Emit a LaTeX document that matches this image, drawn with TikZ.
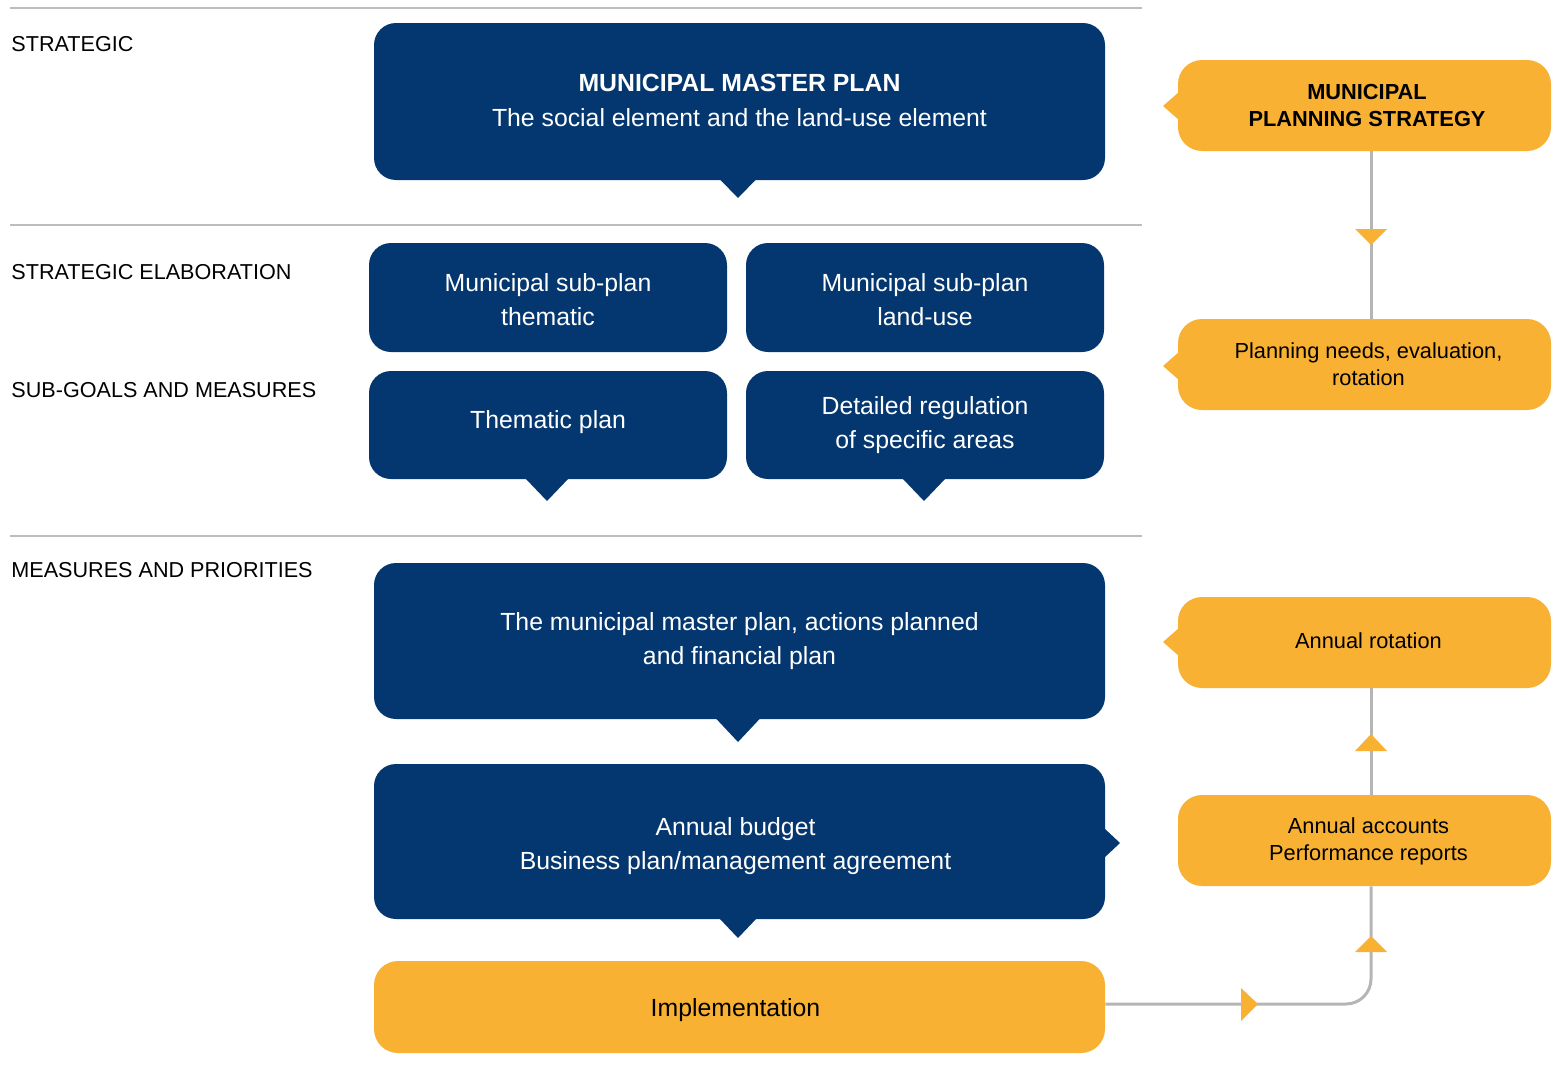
\documentclass[tikz,border=0pt]{standalone}
\usepackage{fontspec}
\setmainfont{Liberation Sans}
\usetikzlibrary{calc}
\definecolor{navy}{HTML}{04376F}
\definecolor{gold}{HTML}{F8B133}
\definecolor{sepgray}{HTML}{BDBDBD}
\definecolor{lgray}{HTML}{B5B5B5}
\begin{document}
\begin{tikzpicture}[x=0.5pt,y=-0.5pt,
  bluebox/.style={fill=navy, rounded corners=11pt, inner sep=0pt},
  goldbox/.style={fill=gold, rounded corners=12pt, inner sep=0pt},
  btxt/.style={text=white, inner sep=0pt, align=center, font=\fontsize{12.4}{17}\selectfont},
  gtxt/.style={text=black, inner sep=0pt, align=center, font=\fontsize{10.9}{13.5}\selectfont},
  widebox/.style={minimum width=365.5pt},
  halfbox/.style={minimum width=179pt},
  sidebox/.style={minimum width=186.5pt, minimum height=45.5pt},
  rowlabel/.style={anchor=west, inner sep=0pt, text=black, font=\fontsize{10.8}{12}\selectfont},
  sepline/.style={draw=sepgray, line width=1pt},
  flowline/.style={draw=lgray, line width=1.5pt},
  bluetip/.style={fill=navy},
  goldtip/.style={fill=gold}
]
\useasboundingbox (0,0) rectangle (1558,1076);

% separators
\draw[sepline] (10,8) -- (1142,8);
\draw[sepline] (10,225) -- (1142,225);
\draw[sepline] (10,536) -- (1142,536);

% row labels
\node[rowlabel] (l1) at (11,44) {STRATEGIC};
\node[rowlabel] (l2) at (11,272) {STRATEGIC ELABORATION};
\node[rowlabel] (l3) at (11,390) {SUB-GOALS AND MEASURES};
\node[rowlabel] (l4) at (11,570) {MEASURES AND PRIORITIES};

% blue boxes
\node[bluebox, widebox, minimum height=78.5pt] (master) at (739.5,101.5) {};
\node[bluebox, halfbox, minimum height=54.5pt] (subthem) at (548,297.5) {};
\node[bluebox, halfbox, minimum height=54.5pt] (subland) at (925,297.5) {};
\node[bluebox, halfbox, minimum height=54pt] (themplan) at (548,425) {};
\node[bluebox, halfbox, minimum height=54pt] (detailed) at (925,425) {};
\node[bluebox, widebox, minimum height=78pt] (actions) at (739.5,641) {};
\node[bluebox, widebox, minimum height=77.5pt] (budget) at (739.5,841.5) {};
\node[goldbox, widebox, minimum height=46pt] (impl) at (739.5,1007) {};

% blue box texts
\node[btxt] (mastertxt) at ($(master.center)+(0,-1.5)$)
  {{\bfseries MUNICIPAL MASTER PLAN}\\[0.5pt]The social element and the land-use element};
\node[btxt] (subthemtxt) at ($(subthem.center)+(0,2.5)$) {Municipal sub-plan\\thematic};
\node[btxt] (sublandtxt) at ($(subland.center)+(0,2.5)$) {Municipal sub-plan\\land-use};
\node[btxt] (themplantxt) at ($(themplan.center)+(0,-3)$) {Thematic plan};
\node[btxt] (detailedtxt) at (detailed.center) {Detailed regulation\\of specific areas};
\node[btxt] (actionstxt) at ($(actions.center)+(0,0.5)$)
  {The municipal master plan, actions planned\\and financial plan};
\node[btxt] (budgettxt) at ($(budget.center)+(-4,5)$)
  {Annual budget\\Business plan/management agreement};
\node[btxt, text=black] (impltxt) at ($(impl.center)+(-4,3)$) {Implementation};

% blue notches
\fill[bluetip] (719.5,179) -- (756.5,179) -- (738,198) -- cycle;
\fill[bluetip] (525,478) -- (569,478) -- (547,501) -- cycle;
\fill[bluetip] (902,478) -- (946,478) -- (924,501) -- cycle;
\fill[bluetip] (715.5,718) -- (760.5,718) -- (738,742) -- cycle;
\fill[bluetip] (719,918) -- (757,918) -- (738,938) -- cycle;
\fill[bluetip] (1104,828) -- (1120,843) -- (1104,858) -- cycle;

% gold side boxes
\node[goldbox, sidebox] (strat) at (1364.5,105.5) {};
\node[goldbox, sidebox] (needs) at (1364.5,364.5) {};
\node[goldbox, sidebox] (rotation) at (1364.5,642.5) {};
\node[goldbox, sidebox] (accounts) at (1364.5,840.5) {};

\node[gtxt, font=\fontsize{10.9}{13.5}\selectfont\bfseries] (strattxt) at ($(strat.center)+(2.5,0)$)
  {MUNICIPAL\\PLANNING STRATEGY};
\node[gtxt] (needstxt) at ($(needs.center)+(4,0)$) {Planning needs, evaluation,\\rotation};
\node[gtxt] (rotationtxt) at ($(rotation.center)+(4,-2)$) {Annual rotation};
\node[gtxt] (accountstxt) at ($(accounts.center)+(4,0.5)$) {Annual accounts\\Performance reports};

% gold side notches
\fill[goldtip] (1179,92) -- (1163,106) -- (1179,120) -- cycle;
\fill[goldtip] (1179,352) -- (1163,366) -- (1179,380) -- cycle;
\fill[goldtip] (1179,628) -- (1163,642) -- (1179,656) -- cycle;

% flow connectors
\coordinate (lx) at (1371,0);
\draw[flowline] (strat.south -| lx) -- (needs.north -| lx);
\draw[flowline] (rotation.south -| lx) -- (accounts.north -| lx);
\coordinate (implout) at ($(impl.east)+(0,-3)$);
\draw[flowline, rounded corners=12.5pt] (implout) -| (accounts.south -| lx);

% gold arrow triangles
\fill[goldtip] (1355,229) -- (1387,229) -- (1371,245) -- cycle;
\fill[goldtip] (1355,751) -- (1387,751) -- (1371,734) -- cycle;
\fill[goldtip] (1355,952) -- (1387,952) -- (1371,936) -- cycle;
\fill[goldtip] (1241,988) -- (1258,1004) -- (1241,1021) -- cycle;
\end{tikzpicture}
\end{document}
